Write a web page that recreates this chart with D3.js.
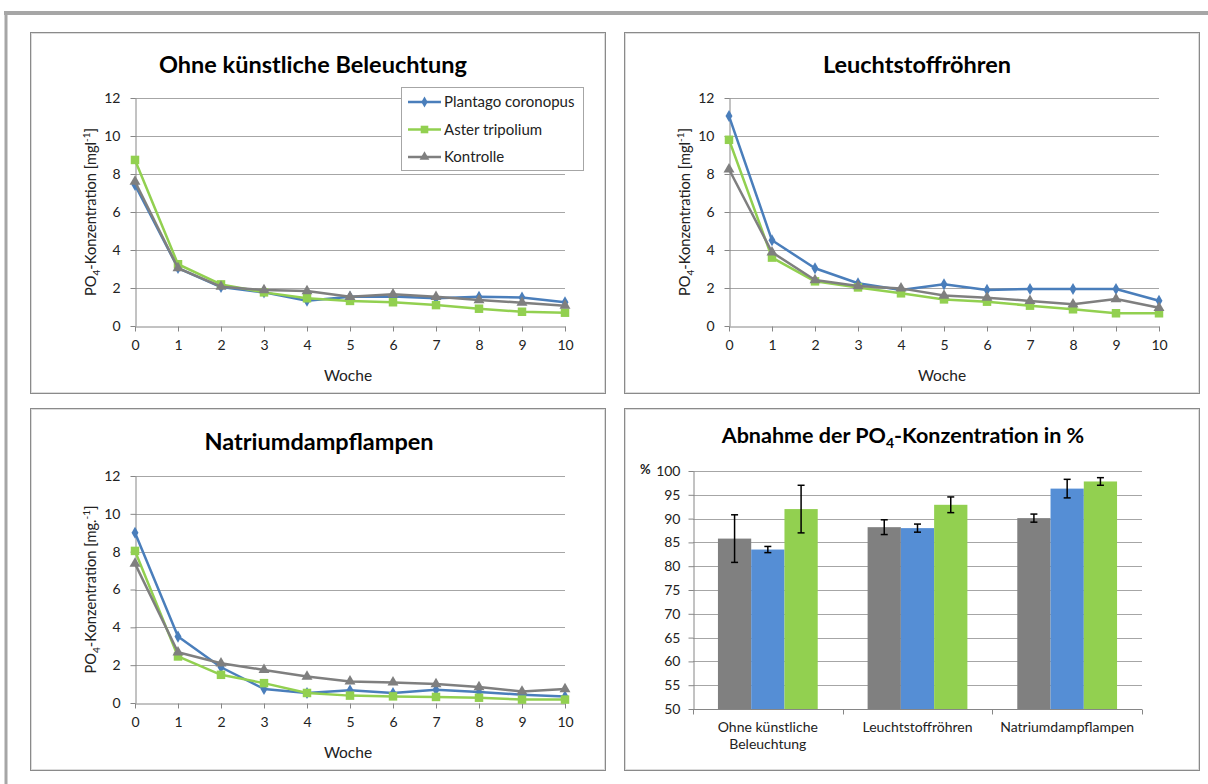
<!DOCTYPE html>
<html><head><meta charset="utf-8">
<script src="https://cdn.jsdelivr.net/npm/d3@7"></script>
<style>
body{margin:0;background:#fff;}
svg{display:block;font-family:Lato,'Open Sans',sans-serif;}
</style>
</head><body>
<svg id="c" width="1208" height="784"></svg>
<script>
// ---------- DATA ----------
const weeks = [0,1,2,3,4,5,6,7,8,9,10];
const seriesNames = ["Plantago coronopus","Aster tripolium","Kontrolle"];
const yTicksLine = [0,2,4,6,8,10,12];

const ohnePlantago   = [7.42,3.05,2.05,1.77,1.33,1.54,1.55,1.46,1.54,1.50,1.25];
const ohneAster      = [8.74,3.25,2.19,1.77,1.46,1.32,1.25,1.10,0.91,0.75,0.70];
const ohneKontrolle  = [7.60,3.05,2.07,1.89,1.84,1.54,1.67,1.54,1.37,1.23,1.07];

const leuchtPlantago  = [11.05,4.51,3.04,2.25,1.90,2.20,1.90,1.95,1.95,1.95,1.33];
const leuchtAster     = [9.80,3.60,2.35,2.03,1.72,1.40,1.28,1.07,0.88,0.67,0.67];
const leuchtKontrolle = [8.25,3.88,2.42,2.10,1.98,1.60,1.49,1.32,1.14,1.42,0.96];

const natPlantago  = [9.00,3.51,1.89,0.74,0.53,0.67,0.53,0.70,0.58,0.44,0.35];
const natAster     = [8.04,2.46,1.49,1.05,0.53,0.39,0.35,0.32,0.28,0.18,0.18];
const natKontrolle = [7.37,2.68,2.10,1.75,1.40,1.14,1.09,1.00,0.84,0.61,0.74];

const barCategories = [["Ohne künstliche","Beleuchtung"],["Leuchtstoffröhren"],["Natriumdampflampen"]];
const barSeries = ["Kontrolle","Plantago coronopus","Aster tripolium"];
const barKontrolle = [85.8,88.2,90.1];
const barPlantago  = [83.5,88.0,96.3];
const barAster     = [92.0,92.9,97.8];
const errKontrolle = [5.0,1.55,0.85];
const errPlantago  = [0.65,0.85,1.95];
const errAster     = [5.0,1.65,0.8];
const yTicksBar = [50,55,60,65,70,75,80,85,90,95,100];

// ---------- STYLE ----------
const colBlueLine = "#4a7ebb", colGreen = "#92d050", colGray = "#7f7f7f";
const colBlueBar = "#558ed5", colGrayBar = "#808080";
const gridCol = "#a6a6a6", axisCol = "#868686", textCol = "#222";

const svg = d3.select("#c");

// outer frame
svg.append("line").attr("x1",4).attr("x2",1208).attr("y1",13).attr("y2",13)
  .attr("stroke","#a6a6a6").attr("stroke-width",4);
svg.append("line").attr("x1",6).attr("x2",6).attr("y1",11).attr("y2",784)
  .attr("stroke","#a6a6a6").attr("stroke-width",3);

// panels
const panels = [[30,32,605,393],[624,32,1199,393],[30,408,605,770],[624,408,1199,770]];
panels.forEach(p=>{
  svg.append("rect").attr("x",p[0]+0.5).attr("y",p[1]+0.5).attr("width",p[2]-p[0]).attr("height",p[3]-p[1])
    .attr("fill","#fff").attr("stroke","#8a8a8a");
  svg.append("rect").attr("x",p[0]+1.5).attr("y",p[1]+1.5).attr("width",p[2]-p[0]-2).attr("height",p[3]-p[1]-2)
    .attr("fill","none").attr("stroke","#dcdcdc");
});

function lineChart(o){
  const g = svg.append("g");
  const x = d3.scaleLinear().domain([0,10]).range([o.x0,o.x1]);
  const y = d3.scaleLinear().domain([0,12]).range([o.yb,o.yt]);
  // grid
  g.selectAll(".grid").data(yTicksLine.filter(d=>d>0)).join("line")
    .attr("x1",o.x0).attr("x2",o.x1).attr("y1",d=>Math.round(y(d))+0.5).attr("y2",d=>Math.round(y(d))+0.5)
    .attr("stroke",gridCol).attr("stroke-width",1);
  // y axis
  const ya = g.append("g").attr("transform",`translate(${Math.round(o.x0)+0.5},0)`)
    .call(d3.axisLeft(y).tickValues(yTicksLine).tickSize(5).tickPadding(10).tickSizeOuter(0));
  ya.select(".domain").attr("stroke",axisCol);
  ya.selectAll(".tick line").attr("stroke",axisCol);
  ya.selectAll(".tick text").attr("font-size",14).attr("fill",textCol).attr("font-family","Lato");
  // x axis
  const xa = g.append("g").attr("transform",`translate(0,${Math.round(o.yb)+0.5})`)
    .call(d3.axisBottom(x).tickValues(weeks).tickSize(5).tickPadding(9).tickSizeOuter(0));
  xa.select(".domain").attr("stroke",axisCol);
  xa.selectAll(".tick line").attr("stroke",axisCol);
  xa.selectAll(".tick text").attr("font-size",14).attr("fill",textCol).attr("font-family","Lato");
  // axis titles
  g.append("text").attr("x",(o.x0+o.x1)/2-2).attr("y",o.yb+55).attr("text-anchor","middle")
    .attr("font-size",15.5).attr("fill",textCol).text("Woche");
  const yl = g.append("text").attr("transform",`translate(${o.x0-39},${(o.yt+o.yb)/2}) rotate(-90)`)
    .attr("text-anchor","middle").attr("font-size",14.7).attr("fill",textCol);
  yl.append("tspan").text("PO");
  yl.append("tspan").attr("font-size",10).attr("dy",4).text("4");
  yl.append("tspan").attr("dy",-4).text("-Konzentration [" + o.unit);
  yl.append("tspan").attr("font-size",10).attr("dy",-6).text("-1");
  yl.append("tspan").attr("dy",6).text("]");
  // title
  g.append("text").attr("x",o.tx).attr("y",o.ty).attr("text-anchor","middle")
    .attr("font-size",23.5).attr("font-weight","bold").attr("fill","#000").text(o.title);
  // series
  const defs = [
    {vals:o.p, col:colBlueLine, sym:d3.symbolDiamond, size:42},
    {vals:o.a, col:colGreen, sym:d3.symbolSquare, size:72},
    {vals:o.k, col:colGray, sym:d3.symbolTriangle, size:52}
  ];
  defs.forEach(s=>{
    g.append("path").datum(s.vals)
      .attr("d",d3.line().x((d,i)=>x(weeks[i])).y(d=>y(d)))
      .attr("fill","none").attr("stroke",s.col).attr("stroke-width",2.5).attr("stroke-linejoin","round");
    g.selectAll(null).data(s.vals).join("path")
      .attr("transform",(d,i)=>`translate(${x(weeks[i])},${y(d)})`)
      .attr("d",d3.symbol().type(s.sym).size(s.size)).attr("fill",s.col);
  });
  // legend
  if(o.legend){
    const lg = g.append("g");
    lg.append("rect").attr("x",401.5).attr("y",87.5).attr("width",182).attr("height",83)
      .attr("fill","#fff").attr("stroke","#a6a6a6");
    const ly = [102,129.5,157];
    defs.forEach((s,i)=>{
      lg.append("line").attr("x1",408).attr("x2",441).attr("y1",ly[i]).attr("y2",ly[i])
        .attr("stroke",s.col).attr("stroke-width",2.5);
      lg.append("path").attr("transform",`translate(424.5,${ly[i]})`)
        .attr("d",d3.symbol().type(s.sym).size(s.size*0.8)).attr("fill",s.col);
      lg.append("text").attr("x",444).attr("y",ly[i]).attr("dy","0.35em")
        .attr("font-size",15).attr("fill",textCol).text(seriesNames[i]);
    });
  }
}

lineChart({x0:135,x1:565,yt:98,yb:326,tx:313,ty:73,title:"Ohne künstliche Beleuchtung",unit:"mgl",
  p:ohnePlantago,a:ohneAster,k:ohneKontrolle,legend:true});
lineChart({x0:729,x1:1159,yt:98,yb:326,tx:917,ty:73,title:"Leuchtstoffröhren",unit:"mgl",
  p:leuchtPlantago,a:leuchtAster,k:leuchtKontrolle,legend:false});
lineChart({x0:135,x1:565,yt:476,yb:703,tx:319,ty:450,title:"Natriumdampflampen",unit:"mg.",
  p:natPlantago,a:natAster,k:natKontrolle,legend:false});

// ---------- BAR CHART ----------
(function(){
  const g = svg.append("g");
  const x0 = 693, x1 = 1142, yt = 471, yb = 709;
  const y = d3.scaleLinear().domain([50,100]).range([yb,yt]);
  const xb = d3.scaleBand().domain(d3.range(barCategories.length)).range([x0,x1]).paddingInner(0).paddingOuter(0);
  const xi = d3.scaleBand().domain(barSeries).range([0,xb.bandwidth()]).paddingInner(0).paddingOuter(0.75);
  // grid
  g.selectAll(".grid").data(yTicksBar.filter(d=>d>50)).join("line")
    .attr("x1",x0).attr("x2",x1).attr("y1",d=>Math.round(y(d))+0.5).attr("y2",d=>Math.round(y(d))+0.5)
    .attr("stroke",gridCol);
  const ya = g.append("g").attr("transform",`translate(${x0+0.5},0)`)
    .call(d3.axisLeft(y).tickValues(yTicksBar).tickSize(5).tickPadding(8).tickSizeOuter(0));
  ya.select(".domain").attr("stroke",axisCol);
  ya.selectAll(".tick line").attr("stroke",axisCol);
  ya.selectAll(".tick text").attr("font-size",14).attr("fill",textCol).attr("font-family","Lato");
  // bars
  const vals = [barKontrolle,barPlantago,barAster];
  const errs = [errKontrolle,errPlantago,errAster];
  const cols = [colGrayBar,colBlueBar,colGreen];
  barSeries.forEach((s,si)=>{
    vals[si].forEach((v,ci)=>{
      const bx = xb(ci)+xi(s);
      g.append("rect").attr("x",bx).attr("y",y(v)).attr("width",xi.bandwidth()).attr("height",yb-y(v))
        .attr("fill",cols[si]);
    });
  });
  // x axis
  const xa = g.append("g").attr("transform",`translate(0,${yb+0.5})`);
  xa.append("line").attr("x1",x0).attr("x2",x1).attr("stroke",axisCol);
  [0,1,2,3].forEach(i=>{
    const xx = Math.round(x0 + i*xb.bandwidth())+0.5;
    xa.append("line").attr("x1",xx).attr("x2",xx).attr("y1",0).attr("y2",5).attr("stroke",axisCol);
  });
  barCategories.forEach((c,ci)=>{
    const t = g.append("text").attr("x",xb(ci)+xb.bandwidth()/2).attr("y",yb+23)
      .attr("text-anchor","middle").attr("font-size",14).attr("fill",textCol);
    c.forEach((line,li)=>t.append("tspan").attr("x",xb(ci)+xb.bandwidth()/2).attr("dy",li?17:0).text(line));
  });
  // error bars
  barSeries.forEach((s,si)=>{
    vals[si].forEach((v,ci)=>{
      const cx = xb(ci)+xi(s)+xi.bandwidth()/2;
      const e = errs[si][ci];
      g.append("line").attr("x1",cx).attr("x2",cx).attr("y1",y(v+e)).attr("y2",y(v-e))
        .attr("stroke","#000").attr("stroke-width",1.5);
      [v+e,v-e].forEach(ev=>g.append("line").attr("x1",cx-3.5).attr("x2",cx+3.5).attr("y1",y(ev)).attr("y2",y(ev))
        .attr("stroke","#000").attr("stroke-width",1.5));
    });
  });
  // title
  const t = g.append("text").attr("x",903).attr("y",443).attr("text-anchor","middle")
    .attr("font-size",21.5).attr("font-weight","bold").attr("fill","#000");
  t.append("tspan").text("Abnahme der PO");
  t.append("tspan").attr("font-size",14).attr("dy",5).text("4");
  t.append("tspan").attr("dy",-5).text("-Konzentration in %");
  g.append("text").attr("x",640).attr("y",474).attr("font-size",13).attr("font-weight","bold")
    .attr("fill",textCol).text("%");
})();
</script>
</body></html>
